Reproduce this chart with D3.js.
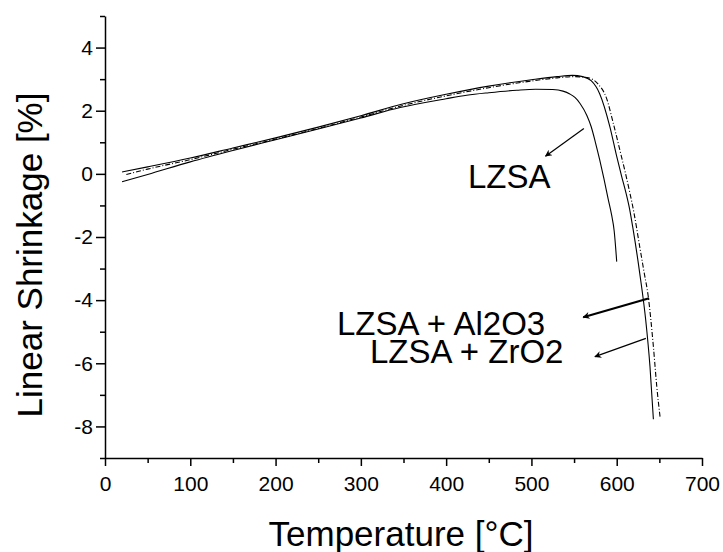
<!DOCTYPE html>
<html>
<head>
<meta charset="utf-8">
<script src="https://cdn.jsdelivr.net/npm/d3@7"></script>
<style>
  body { margin: 0; background: #fff; }
  svg text { font-family: "Liberation Sans", Arial, sans-serif; fill: #000; }
  .axis path, .axis line { stroke: #000; stroke-width: 1.5; }
  .axis text { font-size: 21px; }
</style>
</head>
<body>
<div id="chart"></div>
<script>
// Series: temperature (°C) and linear shrinkage (%)
var lzsaT = [20, 50, 100, 150, 200, 250, 300, 346, 400, 424, 450, 483, 505, 525, 537, 545, 551, 557, 565, 570, 575, 580, 585, 590, 594, 597, 600];
var lzsaV = [-0.25, -0.02, 0.38, 0.74, 1.08, 1.42, 1.77, 2.10, 2.38, 2.49, 2.57, 2.65, 2.68, 2.67, 2.62, 2.53, 2.42, 2.23, 1.85, 1.5, 1.0, 0.45, -0.15, -0.8, -1.3, -1.8, -2.78];

var zrT = [20, 50, 100, 150, 200, 250, 300, 350, 400, 450, 500, 530, 548, 560, 570, 580, 592, 600, 606, 611, 615, 619, 627, 634, 639, 643];
var zrV = [0.06, 0.22, 0.50, 0.82, 1.14, 1.48, 1.84, 2.22, 2.52, 2.78, 2.98, 3.08, 3.12, 3.08, 2.95, 2.54, 1.49, 0.55, -0.1, -0.62, -1.1, -1.72, -3.15, -4.63, -6.1, -7.77];

var alT = [25, 50, 100, 150, 200, 250, 300, 350, 400, 450, 500, 530, 550, 565, 578, 588, 596, 604, 610, 615, 620, 627, 632, 637, 643, 647, 651];
var alV = [-0.02, 0.15, 0.45, 0.78, 1.10, 1.44, 1.80, 2.17, 2.47, 2.73, 2.94, 3.04, 3.08, 3.05, 2.85, 2.4, 1.6, 0.72, 0.05, -0.55, -1.2, -2.31, -3.1, -3.89, -5.47, -6.74, -7.74];

var xMajor = [0, 100, 200, 300, 400, 500, 600, 700];
var xMinor = [50, 150, 250, 350, 450, 550, 650];
var yMajor = [-8, -6, -4, -2, 0, 2, 4];
var yMinor = [-9, -7, -5, -3, -1, 1, 3, 5];

// Annotation labels and arrows, in data units [T, %]
var labels = ["LZSA", "LZSA + Al2O3", "LZSA + ZrO2"];
var labelAt = [[425.6, -0.45], [272, -5.1], [310.7, -5.99]];
var arrowFrom = [[561.5, 1.44], [638, -3.94], [634.2, -5.21]];
var arrowTo = [[516.5, 0.56], [560.7, -4.54], [574.4, -5.79]];

var svgWidth = 723;
var svgHeight = 552;
var margin = { top: 16, right: 21, bottom: 94, left: 105 };
var width = svgWidth - margin.left - margin.right;
var height = svgHeight - margin.top - margin.bottom;

var svg = d3.select("#chart")
    .append("svg")
    .attr("width", svgWidth)
    .attr("height", svgHeight);

var defs = svg.append("defs");
defs.append("marker")
    .attr("id", "head")
    .attr("viewBox", "0 0 10 10")
    .attr("refX", 9)
    .attr("refY", 5)
    .attr("markerUnits", "userSpaceOnUse")
    .attr("markerWidth", 10)
    .attr("markerHeight", 7)
    .attr("orient", "auto")
    .append("path")
    .attr("d", "M0,0 L10,5 L0,10 L3,5 Z")
    .attr("fill", "#000");

var chartGroup = svg.append("g")
    .attr("transform", `translate(${margin.left}, ${margin.top})`);

var x = d3.scaleLinear().domain([0, 700]).range([0, width]);
var y = d3.scaleLinear().domain([-9, 5]).range([height, 0]);

// plain hyphen for negatives, like the original
var fmt = d => String(d);

// axes: minor ticks first, then major with labels
chartGroup.append("g")
    .attr("class", "axis")
    .attr("transform", `translate(0, ${height})`)
    .call(d3.axisBottom(x).tickValues(xMinor).tickSize(5).tickFormat(""))
    .call(g => g.select(".domain").remove());

chartGroup.append("g")
    .attr("class", "axis")
    .attr("transform", `translate(0, ${height})`)
    .call(d3.axisBottom(x).tickValues(xMajor).tickSize(8).tickSizeOuter(0).tickPadding(10).tickFormat(fmt));

chartGroup.append("g")
    .attr("class", "axis")
    .call(d3.axisLeft(y).tickValues(yMinor).tickSize(5).tickFormat(""))
    .call(g => g.select(".domain").remove());

chartGroup.append("g")
    .attr("class", "axis")
    .call(d3.axisLeft(y).tickValues(yMajor).tickSize(9).tickSizeOuter(0).tickPadding(3).tickFormat(fmt));

// curves
var line = d3.line()
    .x(d => x(d[0]))
    .y(d => y(d[1]))
    .curve(d3.curveMonotoneX);

var series = [
    { T: lzsaT, V: lzsaV, dash: null },
    { T: zrT, V: zrV, dash: null },
    { T: alT, V: alV, dash: "5,2,1,2" }
];

series.forEach(function (s) {
    var pts = s.T.map((t, i) => [t, s.V[i]]);
    chartGroup.append("path")
        .attr("d", line(pts))
        .attr("fill", "none")
        .attr("stroke", "#000")
        .attr("stroke-width", 1.1)
        .attr("stroke-dasharray", s.dash);
});

// labels and arrows
labels.forEach(function (txt, i) {
    chartGroup.append("text")
        .attr("x", x(labelAt[i][0]))
        .attr("y", y(labelAt[i][1]))
        .style("font-size", "33px")
        .text(txt);

    chartGroup.append("line")
        .attr("x1", x(arrowFrom[i][0]))
        .attr("y1", y(arrowFrom[i][1]))
        .attr("x2", x(arrowTo[i][0]))
        .attr("y2", y(arrowTo[i][1]))
        .attr("stroke", "#000")
        .attr("stroke-width", i === 1 ? 2.2 : 1.2)
        .attr("marker-end", "url(#head)");
});

// axis titles
svg.append("text")
    .attr("x", 401)
    .attr("y", 546)
    .attr("text-anchor", "middle")
    .style("font-size", "35px")
    .text("Temperature [°C]");

svg.append("text")
    .attr("transform", "translate(42, 255) rotate(-90)")
    .attr("text-anchor", "middle")
    .style("font-size", "35px")
    .text("Linear Shrinkage [%]");
</script>
</body>
</html>
